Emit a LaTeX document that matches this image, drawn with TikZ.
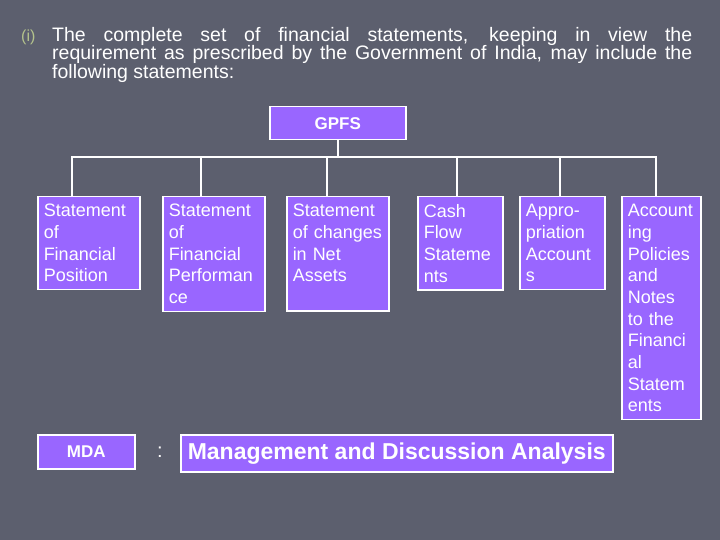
\documentclass[tikz,border=0pt]{standalone}
\usepackage{fontspec}
\setmainfont{Liberation Sans}
\usepackage{xcolor}
\definecolor{SlideGray}{RGB}{92,95,110}
\definecolor{BoxPurple}{RGB}{153,102,255}
\definecolor{BulletOlive}{RGB}{180,195,140}
\usetikzlibrary{positioning,calc}

\begin{document}
\begin{tikzpicture}[x=1pt, y=-1pt,
    box/.style={rectangle, draw=white, fill=BoxPurple, line width=1.5pt,
                anchor=north west, align=left, inner xsep=6pt, inner ysep=7.5pt,
                text=white, font=\fontsize{18}{21.7}\selectfont},
    head/.style={rectangle, draw=white, fill=BoxPurple, line width=1.5pt,
                anchor=north west, text=white, font=\bfseries\fontsize{17}{20}\selectfont},
    link/.style={draw=white, line width=1.5pt}
]
    \fill[SlideGray] (0,0) rectangle (720,540);
    \useasboundingbox (0,0) rectangle (720,540);

    % intro text
    \node[anchor=base west, inner sep=0pt, text=BulletOlive,
          font=\fontsize{16}{18}\selectfont] (bullet) at (21,42) {(i)};
    \node[anchor=north west, text width=640pt, align=justify, inner sep=0pt,
          text=white, font=\fontsize{19.5}{18.5}\selectfont] (intro) at (52,27)
        {The complete set of financial statements, keeping in view the\linebreak
         requirement as prescribed by the Government of India, may include the\linebreak
         following statements:};

    % tree
    \node[head, minimum width=136pt, minimum height=33pt] (gpfs) at (269,106) {GPFS};
    \node[box, text width=90pt] (sfp) at (37,196) {Statement\\of\\Financial\\Position};
    \node[box, text width=90pt] (sfperf) at (162,196) {Statement\\of\\Financial\\Performan\\ce};
    \node[box, text width=90pt] (sna) at (286,196) {Statement\\of changes\\in Net\\Assets\\\mbox{}};
    \node[box, text width=73pt] (cfs) at (417,196) {Cash\\Flow\\Stateme\\nts};
    \node[box, text width=73pt] (appr) at (519,196) {Appro-\\priation\\Account\\s};
    \node[box, text width=67pt] (apn) at (621,196)
        {Account\\ing\\Policies\\and\\Notes\\to the\\Financi\\al\\Statem\\ents};

    \coordinate (bus) at (gpfs.south |- 0,157);
    \draw[link] (gpfs.south) -- (bus);
    \foreach \n/\dx in {sfp/-17, sfperf/-13, sna/-11, cfs/-3.5, appr/-2.5, apn/-5.5}
        \draw[link] ([xshift=\dx pt]\n.north) |- (bus);

    % abbreviation
    \node[head, minimum width=97pt, minimum height=34pt] (mda) at (37,434) {MDA};
    \node[text=white, font=\fontsize{20}{24}\selectfont] (colon) at (160,452) {:};
    \node[head, minimum width=432pt, minimum height=37pt,
          font=\bfseries\fontsize{23}{26}\selectfont] (mgmt) at (180,434)
        {Management and Discussion Analysis};
\end{tikzpicture}
\end{document}
